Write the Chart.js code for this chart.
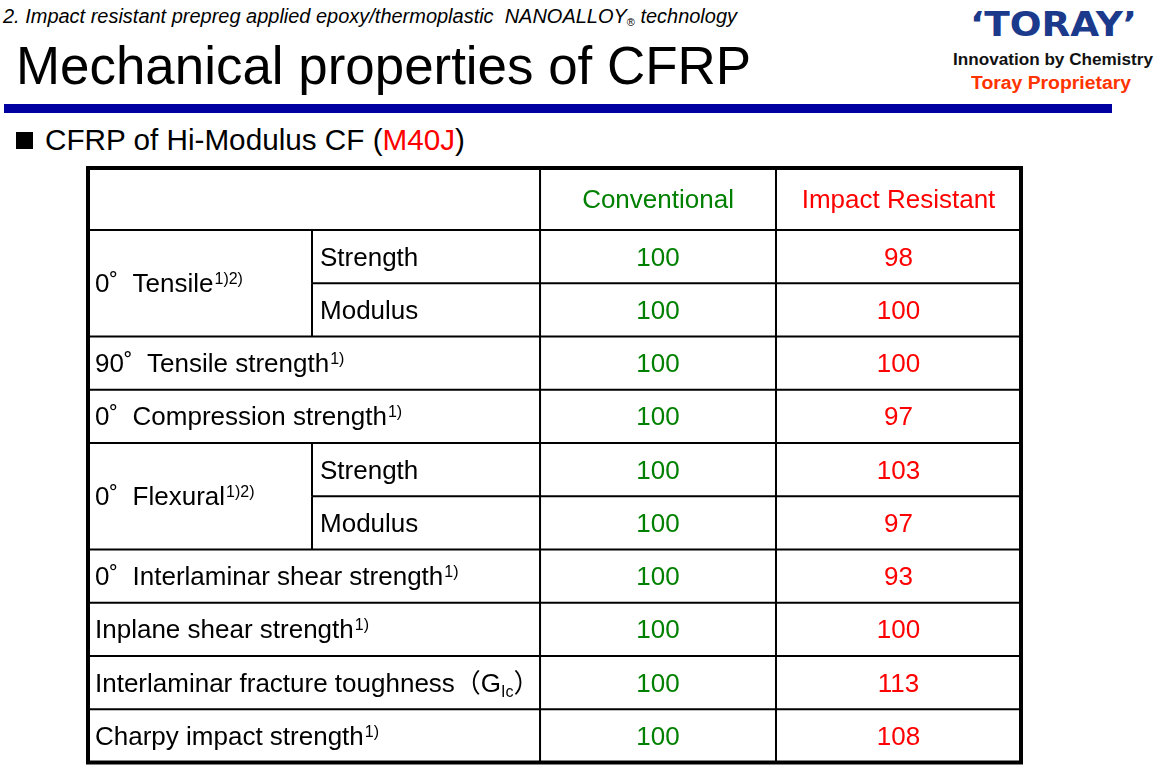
<!DOCTYPE html>
<html>
<head>
<meta charset="utf-8">
<script src="https://cdn.jsdelivr.net/npm/chart.js@4.4.1/dist/chart.umd.min.js"></script>
<style>
  html, body { margin: 0; padding: 0; background: #fff; }
  body { width: 1162px; height: 777px; position: relative; overflow: hidden; font-family: 'Liberation Sans', Arial, sans-serif; }
  .txt { position: absolute; white-space: nowrap; line-height: 1; transform-origin: 0 0; }
  #sub { left: 3px; top: 6px; font-size: 20px; font-style: italic; }
  #sub sub { font-size: 11px; vertical-align: -3px; font-style: normal; }
  #title { left: 16px; top: 38px; font-size: 54px; }
  #bar { position: absolute; left: 4px; top: 104px; width: 1108px; height: 9px; background: #0000a0; }
  #logo { left: 970px; top: 7px; font-family: 'DejaVu Sans', sans-serif; font-weight: bold; font-size: 34px; color: #1b3a8c; }
  #slogan { left: 953px; top: 51px; font-weight: bold; font-size: 17px; color: #111; }
  #prop { left: 971px; top: 74px; font-weight: bold; font-size: 18px; color: #ff3300; }
  #bullet { position: absolute; left: 16px; top: 132px; width: 17px; height: 17px; background: #000; }
  #head { left: 45px; top: 126px; font-size: 29px; }
  #head span { color: #ff0000; }
  #wrap { position: absolute; left: 80px; top: 160px; width: 950px; height: 612px; }
</style>
</head>
<body>
<div class="txt" id="sub" data-w="734">2. Impact resistant prepreg applied epoxy/thermoplastic&nbsp; NANOALLOY<sub>®</sub> technology</div>
<div class="txt" id="title" data-w="735">Mechanical properties of CFRP</div>
<div id="bar"></div>
<div class="txt" id="logo" data-w="167">‘TORAY’</div>
<div class="txt" id="slogan" data-w="200">Innovation by Chemistry</div>
<div class="txt" id="prop" data-w="160">Toray Proprietary</div>
<div id="bullet"></div>
<div class="txt" id="head" data-w="420">CFRP of Hi-Modulus CF (<span>M40J</span>)</div>
<div id="wrap"><canvas id="tableChart"></canvas></div>

<script>
// ─── DATOS ────────────────────────────────────────────────────────────────
const properties = [
  '0˚  Tensile', '0˚  Tensile',
  '90˚  Tensile strength',
  '0˚  Compression strength',
  '0˚  Flexural', '0˚  Flexural',
  '0˚  Interlaminar shear strength',
  'Inplane shear strength',
  'Interlaminar fracture toughness（G{Ic}）',
  'Charpy impact strength'
];
const subProperties = ['Strength', 'Modulus', '', '', 'Strength', 'Modulus', '', '', '', ''];
const notes = ['1)2)', '1)2)', '1)', '1)', '1)2)', '1)2)', '1)', '1)', '', '1)'];

const seriesNames     = ['Conventional', 'Impact Resistant'];
const conventional    = [100, 100, 100, 100, 100, 100, 100, 100, 100, 100];
const impactResistant = [98, 100, 100, 97, 103, 97, 93, 100, 113, 108];

// ─── LAYOUT ───────────────────────────────────────────────────────────────
const COL_EDGES = [0, 0.2401, 0.4845, 0.7374, 1];   // fracción del ancho de la tabla
const HEADER_H  = 62;
const FONT      = "'Liberation Sans', Arial, 'Noto Sans CJK JP', sans-serif";
const BODY_FONT  = '26px ' + FONT;
const SMALL_FONT = '16px ' + FONT;
const GREEN = '#008000';
const RED   = '#ff0000';

// ajustar textos del encabezado al ancho del original
document.querySelectorAll('.txt[data-w]').forEach(el => {
  const w = el.getBoundingClientRect().width;
  el.style.transform = 'scaleX(' + (parseFloat(el.dataset.w) / w) + ')';
});

function colCenter(c) { return (COL_EDGES[c] + COL_EDGES[c + 1]) / 2; }

function drawRich(ctx, text, note, x, y) {
  const parts = text.split(/[{}]/);
  let cx = x;
  parts.forEach((p, k) => {
    const isSub = k % 2 === 1;
    ctx.font = isSub ? SMALL_FONT : BODY_FONT;
    ctx.fillText(p, cx, isSub ? y + 5 : y);
    cx += ctx.measureText(p).width;
  });
  if (note) {
    ctx.font = SMALL_FONT;
    ctx.fillText(note, cx + 1, y - 8);
  }
}

// ─── PLUGIN: dibuja la tabla sobre las escalas ───────────────────────────
const tablePlugin = {
  id: 'cfrpTable',
  afterDatasetsDraw(chart) {
    const { ctx, chartArea: a, scales: { x, y } } = chart;
    const top = a.top - HEADER_H;
    const line = (x0, y0, x1, y1) => { ctx.beginPath(); ctx.moveTo(x0, y0); ctx.lineTo(x1, y1); ctx.stroke(); };

    ctx.save();
    ctx.strokeStyle = '#000';
    ctx.lineWidth = 2;

    // líneas horizontales
    line(a.left, a.top, a.right, a.top);
    for (let i = 1; i < properties.length; i++) {
      const merged = subProperties[i] && properties[i] === properties[i - 1];
      const x0 = merged ? x.getPixelForValue(COL_EDGES[1]) : a.left;
      line(x0, y.getPixelForValue(i), a.right, y.getPixelForValue(i));
    }
    // líneas verticales
    subProperties.forEach((s, i) => {
      if (!s) return;
      const xp = x.getPixelForValue(COL_EDGES[1]);
      line(xp, y.getPixelForValue(i), xp, y.getPixelForValue(i + 1));
    });
    [2, 3].forEach(c => {
      const xp = x.getPixelForValue(COL_EDGES[c]);
      line(xp, top, xp, a.bottom);
    });
    // borde exterior
    ctx.lineWidth = 4;
    ctx.strokeRect(a.left, top, a.right - a.left, a.bottom - top);

    // encabezados de columna
    ctx.textBaseline = 'alphabetic';
    ctx.textAlign = 'center';
    ctx.font = BODY_FONT;
    chart.data.datasets.forEach((ds, d) => {
      ctx.fillStyle = ds.borderColor;
      ctx.fillText(ds.label, x.getPixelForValue(colCenter(d + 2)), (top + a.top) / 2 + 9);
    });

    // valores
    chart.data.datasets.forEach((ds, d) => {
      ctx.fillStyle = ds.borderColor;
      chart.getDatasetMeta(d).data.forEach((pt, i) => {
        ctx.fillText(String(ds.values[i]), pt.x, pt.y + 9);
      });
    });

    // nombres de propiedades
    ctx.textAlign = 'left';
    ctx.fillStyle = '#000';
    for (let i = 0; i < properties.length; i++) {
      if (i > 0 && subProperties[i] && properties[i] === properties[i - 1]) continue;
      const span = (subProperties[i] && properties[i] === properties[i + 1]) ? 2 : 1;
      const cy = (y.getPixelForValue(i) + y.getPixelForValue(i + span)) / 2;
      drawRich(ctx, properties[i], notes[i], a.left + 7, cy + 9);
    }
    ctx.font = BODY_FONT;
    subProperties.forEach((s, i) => {
      if (!s) return;
      ctx.fillText(s, x.getPixelForValue(COL_EDGES[1]) + 8, y.getPixelForValue(i + 0.5) + 9);
    });
    ctx.restore();
  }
};

// ─── CHART ────────────────────────────────────────────────────────────────
const seriesValues = [conventional, impactResistant];
const seriesColors = [GREEN, RED];

new Chart(document.getElementById('tableChart'), {
  type: 'scatter',
  data: {
    datasets: seriesNames.map((name, d) => ({
      label: name,
      values: seriesValues[d],
      data: seriesValues[d].map((_, i) => ({ x: colCenter(d + 2), y: i + 0.5 })),
      borderColor: seriesColors[d],
      backgroundColor: seriesColors[d],
      pointRadius: 0,
      pointHoverRadius: 0
    }))
  },
  options: {
    responsive: true,
    maintainAspectRatio: false,
    animation: false,
    events: [],
    layout: { padding: { left: 8, right: 9, top: 70, bottom: 9.5 } },
    plugins: { legend: { display: false }, tooltip: { enabled: false } },
    scales: {
      x: { type: 'linear', min: 0, max: 1, display: false },
      y: { type: 'linear', min: 0, max: properties.length, reverse: true, display: false }
    }
  },
  plugins: [tablePlugin]
});
</script>
</body>
</html>
